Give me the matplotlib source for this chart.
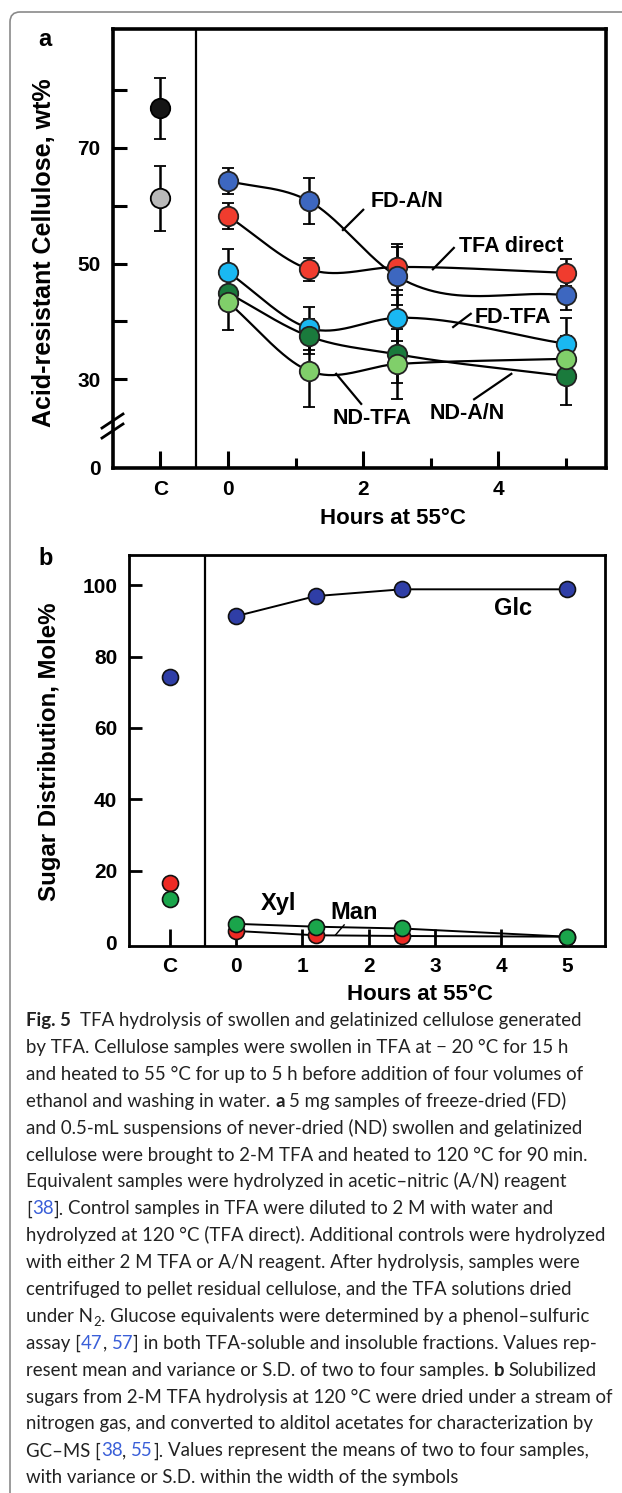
import numpy as np
import matplotlib
matplotlib.use('Agg')
import matplotlib.pyplot as plt
from matplotlib.lines import Line2D
from matplotlib.patches import FancyBboxPatch

plt.rcParams['font.family'] = ['Liberation Sans', 'DejaVu Sans']
plt.rcParams['font.weight'] = 'bold'

# ---- panel a: acid-resistant cellulose (wt%) ----
hours = [0, 1.2, 2.5, 5]
ctrl_vals = [76.9, 61.3]
ctrl_err = [5.3, 5.6]
ctrl_colors = ['#151515', '#b9b9b9']

fd_an = [64.3, 60.8, 47.8, 44.5]
fd_an_err = [2.2, 4.0, 5.0, 2.5]
tfa_direct = [58.2, 49.0, 49.4, 48.4]
tfa_direct_err = [2.3, 2.0, 4.0, 2.3]
fd_tfa = [48.5, 38.8, 40.6, 36.1]
fd_tfa_err = [4.0, 3.7, 4.0, 4.5]
nd_an = [44.9, 37.4, 34.3, 30.5]
nd_an_err = [3.0, 3.0, 5.0, 5.0]
nd_tfa = [43.3, 31.4, 32.6, 33.5]
nd_tfa_err = [4.8, 6.2, 6.0, 4.0]

a_series = [
    (tfa_direct, tfa_direct_err, '#f03c2e'),
    (fd_an, fd_an_err, '#3d67c0'),
    (fd_tfa, fd_tfa_err, '#1ab8f2'),
    (nd_an, nd_an_err, '#1a7a3c'),
    (nd_tfa, nd_tfa_err, '#80cf6a'),
]
a_labels = ['FD-A/N', 'TFA direct', 'FD-TFA', 'ND-TFA', 'ND-A/N']
a_label_xy = [(2.65, 60.8), (4.19, 53.0), (4.22, 40.7), (2.13, 23.2), (3.54, 24.1)]
a_leaders = [((1.70, 55.8), (2.00, 59.3)), ((3.03, 49.0), (3.34, 52.7)),
             ((3.33, 39.0), (3.59, 41.3)), ((1.60, 30.9), (1.97, 25.7)),
             ((3.64, 26.5), (4.19, 30.9))]
zero_pos = 14.6   # where "0" sits below the axis break

# ---- panel b: sugar distribution (mole%) ----
glc_ctrl, xyl_ctrl, man_ctrl = 74.4, 12.2, 16.7
glc = [91.3, 96.9, 98.8, 98.8]
xyl = [5.2, 4.4, 3.9, 1.6]
man = [3.2, 2.0, 1.8, 1.6]
b_labels = ['Glc', 'Xyl', 'Man']
b_label_xy = [(4.18, 93.3), (0.64, 11.0), (1.78, 8.5)]
man_leader = ((1.50, 2.1), (1.63, 4.9))


def smooth(x, y, n=60):
    x = np.asarray(x, float)
    y = np.asarray(y, float)
    m = np.gradient(y, x)
    xs, ys = [], []
    t = np.linspace(0, 1, n)
    for i in range(len(x) - 1):
        h = x[i + 1] - x[i]
        h00 = 2*t**3 - 3*t**2 + 1
        h10 = t**3 - 2*t**2 + t
        h01 = -2*t**3 + 3*t**2
        h11 = t**3 - t**2
        xs.append(x[i] + t*h)
        ys.append(h00*y[i] + h10*h*m[i] + h01*y[i+1] + h11*h*m[i+1])
    return np.concatenate(xs), np.concatenate(ys)


W, H = 622, 1493
fig = plt.figure(figsize=(W / 100, H / 100), dpi=100)

# outer rounded frame of the figure box
fig.patches.append(FancyBboxPatch((0.10, -0.3), 7.0, 14.81 + 0.3,
                                  boxstyle='round,pad=0,rounding_size=0.1',
                                  transform=fig.dpi_scale_trans, fc='none',
                                  ec='#8a8a8a', lw=1.2))

# ================= panel a =================
ax = fig.add_axes([113 / W, 1 - 468 / H, 493 / W, 439 / H])
ax.set_xlim(-1.70, 5.59)
ax.set_ylim(zero_pos, 90.6)
for s in ax.spines.values():
    s.set_linewidth(2.6)
ax.axvline(-0.47, color='k', lw=1.6)

for v, e, c in zip(ctrl_vals, ctrl_err, ctrl_colors):
    ax.errorbar([-1], [v], yerr=[e], fmt='o', ms=14, mfc=c, mec='k', mew=1.3,
                ecolor='k', elinewidth=1.8, capsize=4.5, capthick=1.8, zorder=3)

for vals, err, c in a_series:
    sx, sy = smooth(hours, vals)
    ax.plot(sx, sy, color='k', lw=1.6, zorder=2)
for vals, err, c in a_series:
    ax.errorbar(hours, vals, yerr=err, fmt='o', ms=14, mfc=c, mec='#222222', mew=1.3,
                ecolor='k', elinewidth=1.8, capsize=4.5, capthick=1.8, zorder=3)

for lab, (lx, ly), ((x1, y1), (x2, y2)) in zip(a_labels, a_label_xy, a_leaders):
    ax.text(lx, ly, lab, ha='center', va='center', fontsize=15.5, fontweight='bold')
    ax.plot([x1, x2], [y1, y2], color='k', lw=1.6)

ax.set_xticks([-1, 0, 2, 4])
ax.set_xticklabels(['C', '0', '2', '4'])
ax.set_xticks([1, 3, 5], minor=True)
ax.set_yticks([zero_pos, 30, 40, 50, 60, 70, 80])
ax.set_yticklabels(['0', '30', '', '50', '', '70', ''])
ax.yaxis.get_major_ticks()[0].tick1line.set_visible(False)
ax.tick_params(axis='both', which='major', direction='in', length=10, width=2.2,
               labelsize=15, pad=9)
ax.tick_params(axis='x', which='minor', direction='in', length=7, width=2.2)
ax.tick_params(axis='x', which='major', length=12)
for t in ax.get_xticklabels() + ax.get_yticklabels():
    t.set_fontweight('bold')

ax.text(0.568, -0.116, 'Hours at 55°C', transform=ax.transAxes, ha='center',
        va='center', fontsize=16, fontweight='bold')
fig.text(44 / W, 1 - 253 / H, 'Acid-resistant Cellulose, wt%', rotation=90,
         ha='center', va='center', fontsize=18, fontweight='bold')
fig.text(45 / W, 1 - 39 / H, 'a', ha='center', va='center', fontsize=17,
         fontweight='bold')

# axis break marks
for dy in (0, 10):
    fig.add_artist(Line2D([102 / W, 123 / W], [1 - (428 + dy) / H, 1 - (414 + dy) / H],
                          color='k', lw=2.0, transform=fig.transFigure))

# ================= panel b =================
bx = fig.add_axes([129 / W, 1 - 946 / H, 476 / W, 391 / H])
bx.set_xlim(-1.62, 5.57)
bx.set_ylim(-1, 108.4)
for s in bx.spines.values():
    s.set_linewidth(2.0)
bx.axvline(-0.47, color='k', lw=1.6)

mk = dict(marker='o', ms=11.5, mec='#111111', mew=1.2)
bx.plot(hours, man, color='k', lw=1.4, mfc='#ee2a24', zorder=3, **mk)
bx.plot(hours, xyl, color='k', lw=1.4, mfc='#1aa54b', zorder=4, **mk)
bx.plot(hours, glc, color='k', lw=1.4, mfc='#2f3ea6', zorder=3, **mk)
bx.plot([-1], [man_ctrl], ls='none', mfc='#ee2a24', zorder=3, **mk)
bx.plot([-1], [xyl_ctrl], ls='none', mfc='#1aa54b', zorder=4, **mk)
bx.plot([-1], [glc_ctrl], ls='none', mfc='#2f3ea6', zorder=3, **mk)

for lab, (lx, ly) in zip(b_labels, b_label_xy):
    bx.text(lx, ly, lab, ha='center', va='center', fontsize=17, fontweight='bold')
(mx1, my1), (mx2, my2) = man_leader
bx.plot([mx1, mx2], [my1, my2], color='k', lw=1.0)

bx.set_xticks([-1, 0, 1, 2, 3, 4, 5])
bx.set_xticklabels(['C', '0', '1', '2', '3', '4', '5'])
bx.set_yticks([0, 20, 40, 60, 80, 100])
bx.tick_params(axis='both', direction='in', width=2.0, labelsize=15)
bx.tick_params(axis='x', length=12, pad=8)
bx.tick_params(axis='y', length=9, pad=8.5)
bx.yaxis.get_major_ticks()[0].tick1line.set_visible(False)
for t in bx.get_xticklabels() + bx.get_yticklabels():
    t.set_fontweight('bold')

bx.text(0.611, -0.123, 'Hours at 55°C', transform=bx.transAxes, ha='center',
        va='center', fontsize=16, fontweight='bold')
fig.text(50 / W, 1 - 752 / H, 'Sugar Distribution, Mole%', rotation=90,
         ha='center', va='center', fontsize=17.3, fontweight='bold')
fig.text(46 / W, 1 - 559 / H, 'b', ha='center', va='center', fontsize=17,
         fontweight='bold')

# ================= caption =================
caption = [
    [('Fig. 5', 'b'), ('  TFA hydrolysis of swollen and gelatinized cellulose generated', 'n')],
    [('by TFA. Cellulose samples were swollen in TFA at \u2212 20 °C for 15 h', 'n')],
    [('and heated to 55 °C for up to 5 h before addition of four volumes of', 'n')],
    [('ethanol and washing in water. ', 'n'), ('a', 'b'), (' 5 mg samples of freeze-dried (FD)', 'n')],
    [('and 0.5-mL suspensions of never-dried (ND) swollen and gelatinized', 'n')],
    [('cellulose were brought to 2-M TFA and heated to 120 °C for 90 min.', 'n')],
    [('Equivalent samples were hydrolyzed in acetic\u2013nitric (A/N) reagent', 'n')],
    [('[', 'n'), ('38', 'l'), ('].', 'n'), (' Control samples in TFA were diluted to 2 M with water and', 'n')],
    [('hydrolyzed at 120 °C (TFA direct). Additional controls were hydrolyzed', 'n')],
    [('with either 2 M TFA or A/N reagent. After hydrolysis, samples were', 'n')],
    [('centrifuged to pellet residual cellulose, and the TFA solutions dried', 'n')],
    [('under N', 'n'), ('2', 's'), ('. Glucose equivalents were determined by a phenol\u2013sulfuric', 'n')],
    [('assay [', 'n'), ('47', 'l'), (', ', 'n'), ('57', 'l'),
     ('] in both TFA-soluble and insoluble fractions. Values rep-', 'n')],
    [('resent mean and variance or S.D. of two to four samples. ', 'n'), ('b', 'b'),
     (' Solubilized', 'n')],
    [('sugars from 2-M TFA hydrolysis at 120 °C were dried under a stream of', 'n')],
    [('nitrogen gas, and converted to alditol acetates for characterization by', 'n')],
    [('GC\u2013MS [', 'n'), ('38', 'l'), (', ', 'n'), ('55', 'l'),
     ('].', 'n'), (' Values represent the means of two to four samples,', 'n')],
    [('with variance or S.D. within the width of the symbols', 'n')],
]

cap_font = ['Lato', 'DejaVu Sans']
renderer = fig.canvas.get_renderer()


def twidth(s, size, weight='normal'):
    t = fig.text(0, 0, s, fontsize=size, family=cap_font, fontweight=weight)
    w = t.get_window_extent(renderer).width
    t.remove()
    return w


base = 10.0
widest = max(twidth(''.join(s for s, _ in line), base) for line in caption)
cap_size = base * 586 / widest
space_w = twidth('x x', cap_size) - twidth('xx', cap_size)

x0, y0, dy = 26, 1026, 26.9
for i, line in enumerate(caption):
    x = x0
    yb = y0 + i * dy
    for seg, kind in line:
        core = seg.strip(' ')
        lead = len(seg) - len(seg.lstrip(' '))
        trail = len(seg) - len(seg.rstrip(' '))
        x += lead * space_w
        size, weight, color, yy = cap_size, 'normal', '#222222', yb
        if kind == 'b':
            weight = 'bold'
        elif kind == 'l':
            color = '#3a5fd8'
        elif kind == 's':
            size = cap_size * 0.7
            yy = yb + 4
        t = fig.text(x / W, 1 - yy / H, core, fontsize=size, family=cap_font,
                     fontweight=weight, color=color, va='baseline', ha='left')
        x += t.get_window_extent(renderer).width + trail * space_w

fig.savefig('out.png', dpi=100)
